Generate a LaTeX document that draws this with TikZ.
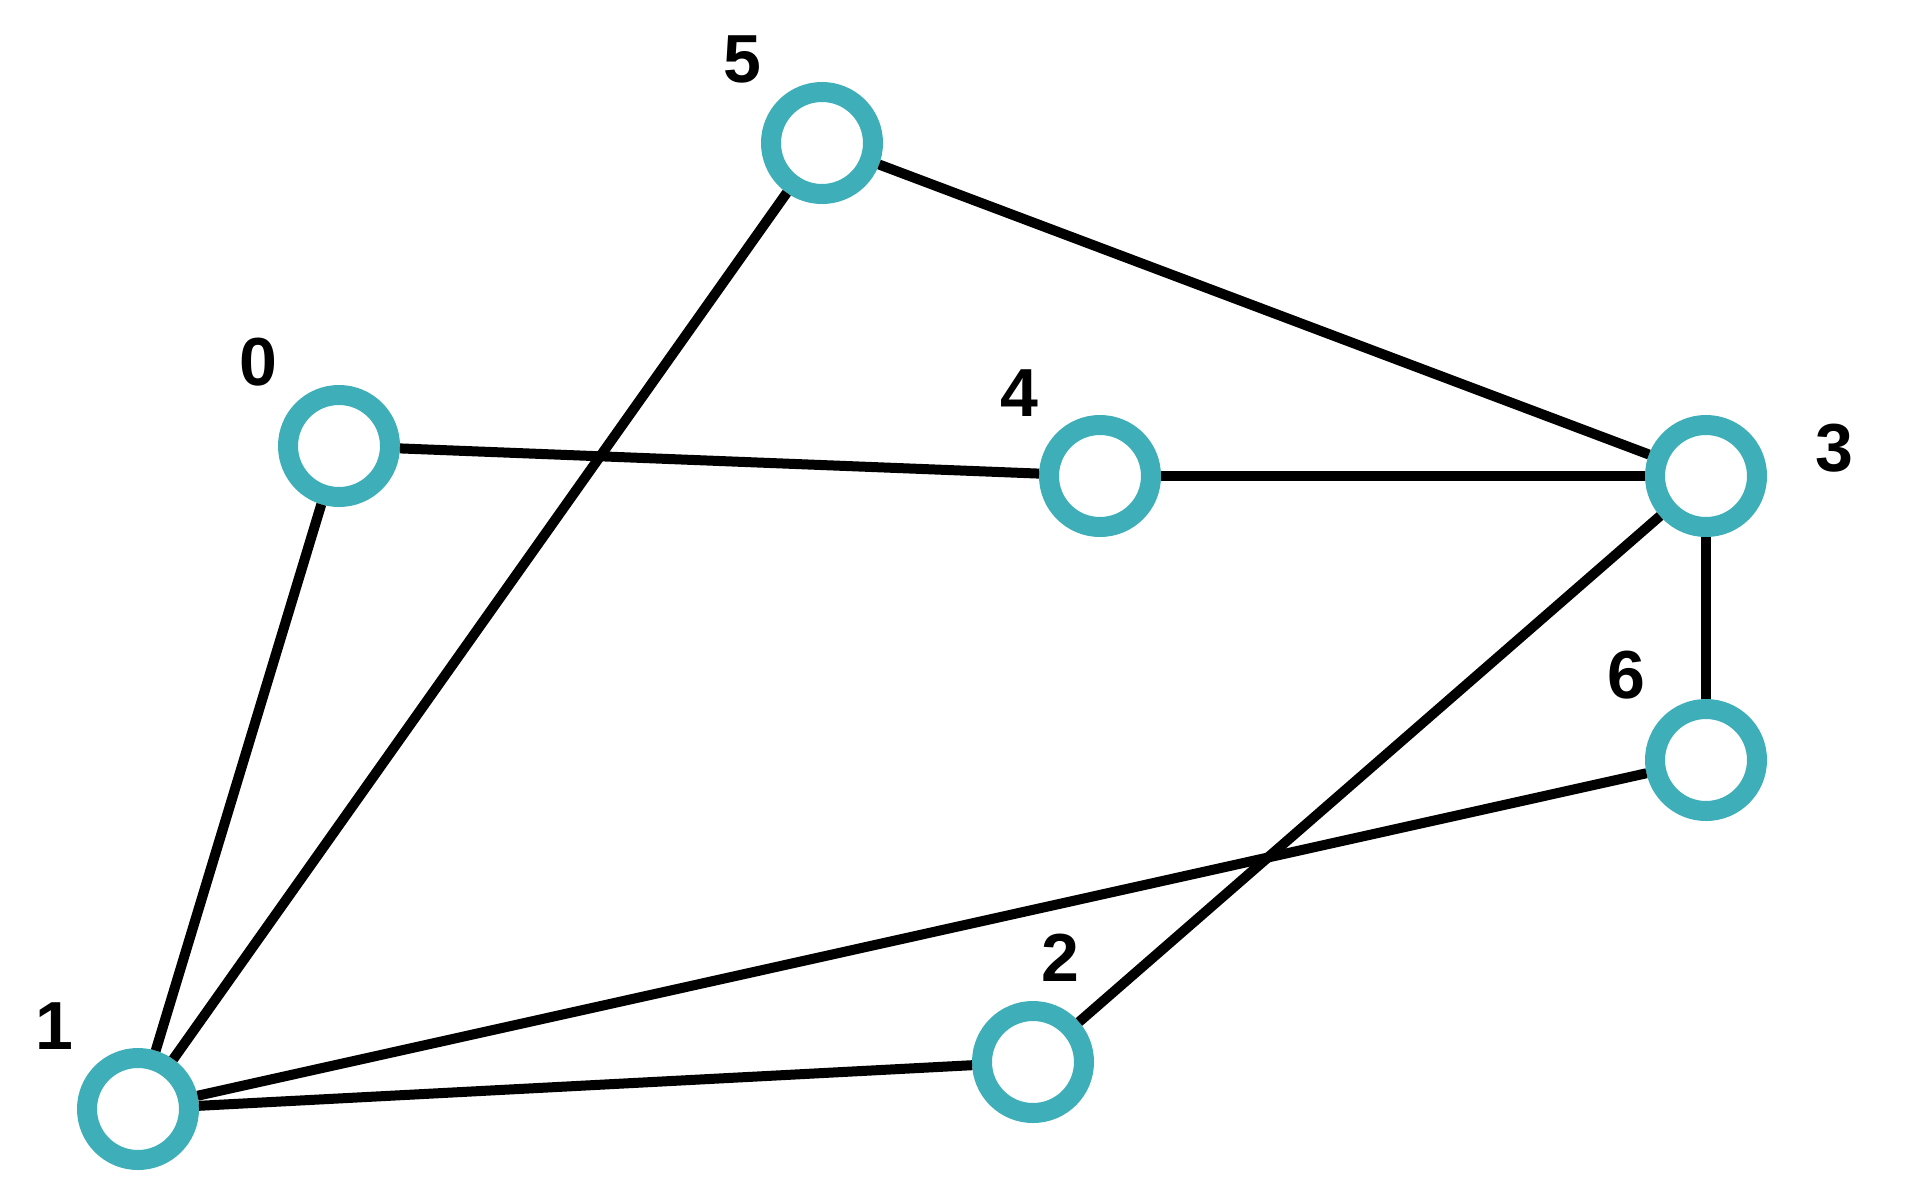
\documentclass[tikz,border=0pt]{standalone}
\usepackage{fontspec}
\setmainfont{Liberation Sans}
\definecolor{teal}{HTML}{3EAFB8}
\begin{document}
\begin{tikzpicture}[x=1pt,y=-1pt,
  v/.style={circle,draw=teal,line width=20pt,minimum size=102pt,inner sep=0pt,fill=white},
  lab/.style={font=\bfseries\fontsize{68}{68}\selectfont,inner sep=0pt},
  e/.style={line width=10pt,black}]
\useasboundingbox (0,0) rectangle (1920,1200);
\node[v] (n0) at (339,446) {};
\node[v] (n1) at (138,1109) {};
\node[v] (n2) at (1033,1062) {};
\node[v] (n3) at (1706,476) {};
\node[v] (n4) at (1100,476) {};
\node[v] (n5) at (822,143) {};
\node[v] (n6) at (1706,760) {};
\begin{scope}[on background layer/.style={}]
\end{scope}
\draw[e] (n0) -- (n4);
\draw[e] (n0) -- (n1);
\draw[e] (n1) -- (n5);
\draw[e] (n5) -- (n3);
\draw[e] (n4) -- (n3);
\draw[e] (n3) -- (n2);
\draw[e] (n3) -- (n6);
\draw[e] (n6) -- (n1);
\draw[e] (n1) -- (n2);
\node[lab] (l0) at (258,362) {0};
\node[lab] (l1) at (54,1026) {1};
\node[lab] (l2) at (1060,958) {2};
\node[lab] (l3) at (1834,448) {3};
\node[lab] (l4) at (1019,393) {4};
\node[lab] (l5) at (742,59) {5};
\node[lab] (l6) at (1626,675) {6};
\end{tikzpicture}
\end{document}
